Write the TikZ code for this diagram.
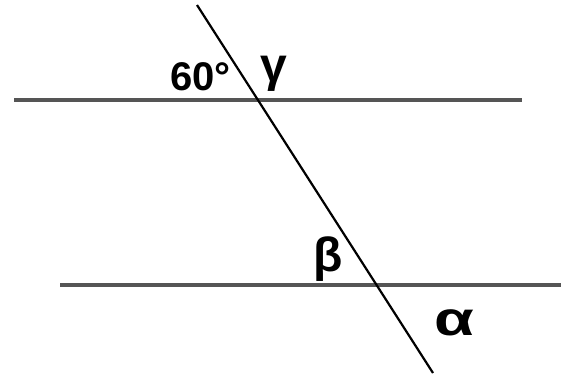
\documentclass[tikz,border=0pt]{standalone}
\usepackage{fontspec}
\setmainfont{Liberation Sans}
\definecolor{linegray}{HTML}{555555}

\begin{document}
\begin{tikzpicture}[x=1pt,y=-1pt,
  parline/.style={linegray,line width=4.5pt},
  transline/.style={black,line width=2.2pt},
  anglelab/.style={font=\fontsize{40}{46}\selectfont\bfseries,inner sep=0pt},
  greeklab/.style={font=\fontsize{48}{54}\selectfont\bfseries,inner sep=0pt}]
  %% 1 unit = 1 px of the 561x375 frame, y pointing down
  \useasboundingbox (0,0) rectangle (561,375);

  % End points of the two parallels and the transversal
  \coordinate (ua) at (14,100);
  \coordinate (ub) at (522,100);
  \coordinate (la) at (60,285);
  \coordinate (lb) at (561,285);
  \coordinate (ta) at (197,5);
  \coordinate (tb) at (433,373);

  % Parallel lines
  \draw[parline](ua)--(ub);
  \draw[parline](la)--(lb);
  % Transversal
  \draw[transline](ta)--(tb);

  % Angle labels
  \node[anglelab,anchor=west] (sixty) at (170,77) {60°};
  \node[greeklab] (gamma) at (273.5,74) {γ};
  \node[greeklab] (beta) at (328.5,259.5) {β};
  \node[greeklab,xscale=1.35,transform shape] (alpha) at (454,322.5) {α};
\end{tikzpicture}
\end{document}
